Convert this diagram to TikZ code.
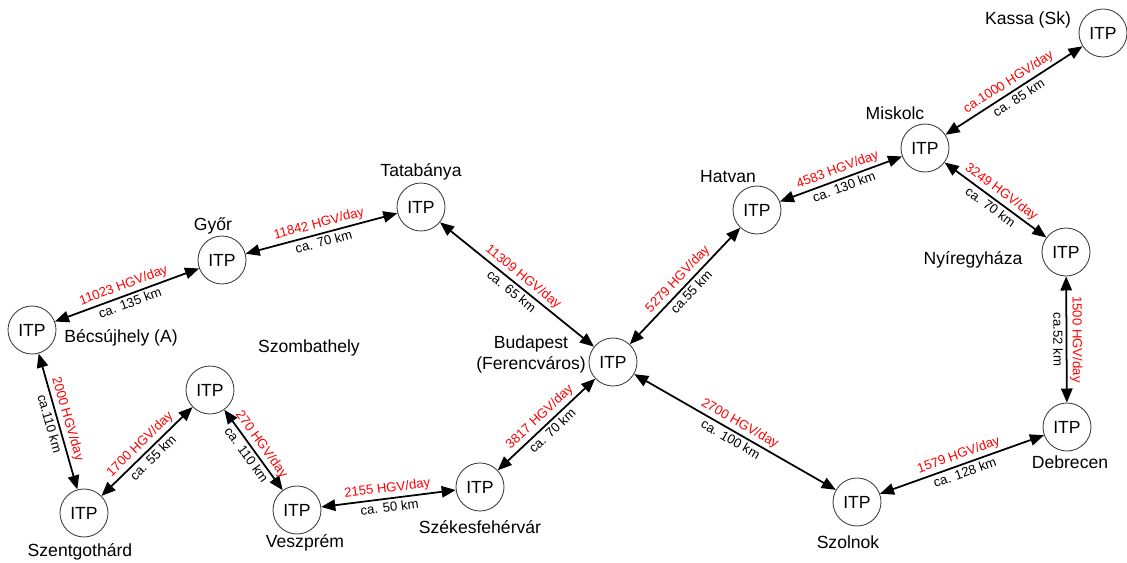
\documentclass[tikz,border=0pt]{standalone}
\usepackage{fontspec}
\setmainfont{Liberation Sans}
\usetikzlibrary{arrows.meta}

\begin{document}
\begin{tikzpicture}[x=0.02cm, y=0.02cm, font=\fontsize{10}{12}\selectfont]
    \tikzset{ itp/.style={circle, draw=black!75, line width=0.5pt, minimum size=0.96cm, inner sep=0pt},
              city/.style={inner sep=0pt},
              link/.style={{Triangle[length=8pt,width=6.5pt]}-{Triangle[length=8pt,width=6.5pt]}, line width=1pt},
              hgv/.style={sloped, above, pos=0.5, red, inner sep=1.5pt, font=\fontsize{7.5}{9}\selectfont},
              dist/.style={sloped, below, pos=0.5, inner sep=1.5pt, font=\fontsize{7.5}{9}\selectfont} }
    \useasboundingbox (0,0) rectangle (1127,562);

    % terminals
    \node[itp] (kassa) at (1103,529) {ITP};
    \node[itp] (miskolc) at (925,414) {ITP};
    \node[itp] (hatvan) at (757,352) {ITP};
    \node[itp] (nyiregyhaza) at (1066,310) {ITP};
    \node[itp] (debrecen) at (1067,135) {ITP};
    \node[itp] (szolnok) at (857,60) {ITP};
    \node[itp] (budapest) at (613,200) {ITP};
    \node[itp] (tatabanya) at (421,355) {ITP};
    \node[itp] (gyor) at (222,302) {ITP};
    \node[itp] (becsujhely) at (32,232) {ITP};
    \node[itp] (szentgothard) at (84,49) {ITP};
    \node[itp] (szombathely) at (210,172) {ITP};
    \node[itp] (veszprem) at (297,52) {ITP};
    \node[itp] (szekesfehervar) at (480,75) {ITP};

    % city names
    \node[city] (kassaName) at (1028,542) {Kassa (Sk)};
    \node[city] (miskolcName) at (895,449) {Miskolc};
    \node[city] (hatvanName) at (728,385) {Hatvan};
    \node[city] (nyiregyhazaName) at (973,302) {Nyíregyháza};
    \node[city] (debrecenName) at (1070,100) {Debrecen};
    \node[city] (szolnokName) at (848,20) {Szolnok};
    \node[city, align=center] (budapestName) at (531,208) {Budapest\\(Ferencváros)};
    \node[city] (tatabanyaName) at (421,390) {Tatabánya};
    \node[city] (gyorName) at (213,336) {Győr};
    \node[city] (becsujhelyName) at (121,224) {Bécsújhely (A)};
    \node[city] (szombathelyName) at (309,214) {Szombathely};
    \node[city] (szentgothardName) at (80,10) {Szentgothárd};
    \node[city] (veszpremName) at (305,19) {Veszprém};
    \node[city] (szekesfehervarName) at (480,35) {Székesfehérvár};

    % links
    \draw[link] (miskolc) -- node[hgv]{ca.1000 HGV/day} node[dist]{ca. 85 km} (kassa);
    \draw[link] (hatvan) -- node[hgv]{4583 HGV/day} node[dist]{ca. 130 km} (miskolc);
    \draw[link] (miskolc) -- node[hgv]{3249 HGV/day} node[dist]{ca. 70 km} (nyiregyhaza);
    \draw[link] (nyiregyhaza) -- node[hgv]{1500 HGV/day} node[dist]{ca.52 km} (debrecen);
    \draw[link] (szolnok) -- node[hgv]{1579 HGV/day} node[dist]{ca. 128 km} (debrecen);
    \draw[link] (budapest) -- node[hgv]{2700 HGV/day} node[dist]{ca. 100 km} (szolnok);
    \draw[link] (budapest) -- node[hgv]{5279 HGV/day} node[dist]{ca.55 km} (hatvan);
    \draw[link] (tatabanya) -- node[hgv]{11309 HGV/day} node[dist]{ca. 65 km} (budapest);
    \draw[link] (gyor) -- node[hgv]{11842 HGV/day} node[dist]{ca. 70 km} (tatabanya);
    \draw[link] (becsujhely) -- node[hgv]{11023 HGV/day} node[dist]{ca. 135 km} (gyor);
    \draw[link] (becsujhely) -- node[hgv]{2000 HGV/day} node[dist]{ca.110 km} (szentgothard);
    \draw[link] (szentgothard) -- node[hgv]{1700 HGV/day} node[dist]{ca. 55 km} (szombathely);
    \draw[link] (szombathely) -- node[hgv]{270 HGV/day} node[dist]{ca. 110 km} (veszprem);
    \draw[link] (veszprem) -- node[hgv]{2155 HGV/day} node[dist]{ca. 50 km} (szekesfehervar);
    \draw[link] (szekesfehervar) -- node[hgv]{3817 HGV/day} node[dist]{ca. 70 km} (budapest);
\end{tikzpicture}
\end{document}
